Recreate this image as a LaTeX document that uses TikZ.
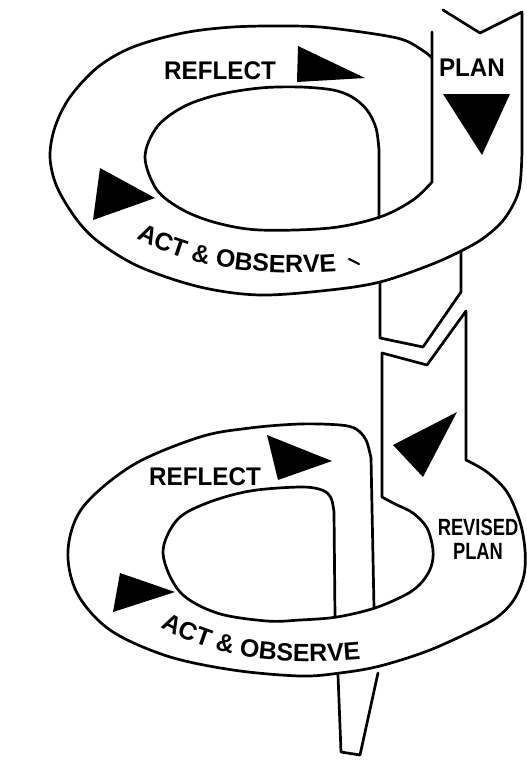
\documentclass[tikz,border=0pt]{standalone}
\usepackage{fontspec}
\setmainfont{Liberation Sans}
\usetikzlibrary{decorations.text}
\begin{document}
\begin{tikzpicture}[x=1pt,y=-1pt,
  rib/.style={line width=2.7pt, line join=round, line cap=round},
  tri/.style={fill=black},
  lbl/.style={font=\bfseries\fontsize{25.5}{25.5}\selectfont, inner sep=0pt, anchor=base, xscale=0.95},
  rlbl/.style={font=\bfseries\fontsize{23.5}{23.5}\selectfont, inner sep=0pt, anchor=base, xscale=0.78},
  curvtext/.style={decorate, decoration={text along path, text align=center, text={#1}}}]
\fill[white] (0,0) rectangle (527,760);
\useasboundingbox (0,0) rectangle (527,760);

% ---- top loop: PLAN strip right edge + outer edge
\draw[rib] (443,10) -- (480,33) -- (522,12) -- plot[smooth,tension=0.55] coordinates {(522,150) (519,190) (505,218) (485,237) (463,250) (430,265) (380,282) (330,290) (260,295) (200,287) (140,267) (100,243) (77,220) (57,187) (50,157) (55,127) (70,97) (98,67) (133,47) (183,33) (233,27) (290,26) (330,28) (397,38) (422,50) (432,58)};

% ---- top loop: PLAN strip left edge + inner edge
\draw[rib] (432,32) -- plot[smooth,tension=0.55] coordinates {(432,182) (413,200) (380,217) (330,228) (260,230) (217,223) (183,210) (157,190) (145,157) (157,127) (183,107) (217,95) (260,88) (300,87) (333,90) (352,97) (367,110) (376,128) (379,150)} -- (379,218);

% ---- connecting strip, upper piece
\draw[rib] (380,283) -- (380,338) -- (423,347) -- (461,292) -- (461,251);

% ---- connecting strip, lower piece + outer edge of lower loop
\draw[rib] (382,497) -- (382,353) -- (427,365) -- (466,311) -- plot[smooth,tension=0.55] coordinates {(466,460) (487,472) (507,492) (520,522) (525,550) (524,575) (515,598) (500,615) (480,627) (430,650) (380,666) (340,673) (300,676) (233,670) (167,656) (110,630) (77,593) (68,550) (83,507) (133,465) (200,437) (250,428) (300,424) (340,425) (356,429) (366,440) (371,458)} -- (374,608);

% ---- inner edge of lower loop
\draw[rib] plot[smooth,tension=0.55] coordinates {(382,497) (395,504) (413,513) (427,528) (433,550) (431,567) (422,582) (407,594) (375,608) (337,617) (300,620) (267,621) (217,613) (180,592) (163,553) (177,520) (207,503) (250,491) (300,487) (322,490) (331,498) (334,512)} -- (335,617);

% ---- tail
\draw[rib] (338,675) -- (341,752) -- (360,755) -- (378,673);

% ---- arrowheads
\fill[tri] (298,46) -- (365,78) -- (297,82) -- cycle;
\fill[tri] (443,94) -- (510,94) -- (482,155) -- cycle;
\fill[tri] (100,168) -- (155,198) -- (93,220) -- cycle;
\fill[tri] (267,435) -- (332,461) -- (278,480) -- cycle;
\fill[tri] (393,445) -- (457,412) -- (423,477) -- cycle;
\fill[tri] (120,573) -- (175,592) -- (113,612) -- cycle;

% ---- labels
\node[lbl] (reflect1) at (220,80) {REFLECT};
\node[lbl] (plan1) at (472,76) {PLAN};
\node[lbl] (reflect2) at (205,485) {REFLECT};
\node[rlbl] (revised) at (478,535) {REVISED};
\node[rlbl] (plan2) at (478,559) {PLAN};

\path[curvtext={|\bfseries\fontsize{25}{25}\selectfont|ACT {\&} OBSERVE}] (135,238) .. controls (180,262) and (240,278) .. (338,271);
\path[curvtext={|\bfseries\fontsize{25}{25}\selectfont|ACT {\&} OBSERVE}] (159,626) .. controls (205,652) and (260,668) .. (363,659);

% stray mark after the upper label
\draw[line width=2.2pt, line cap=round] (349,259) -- (359,264);
\end{tikzpicture}
\end{document}
